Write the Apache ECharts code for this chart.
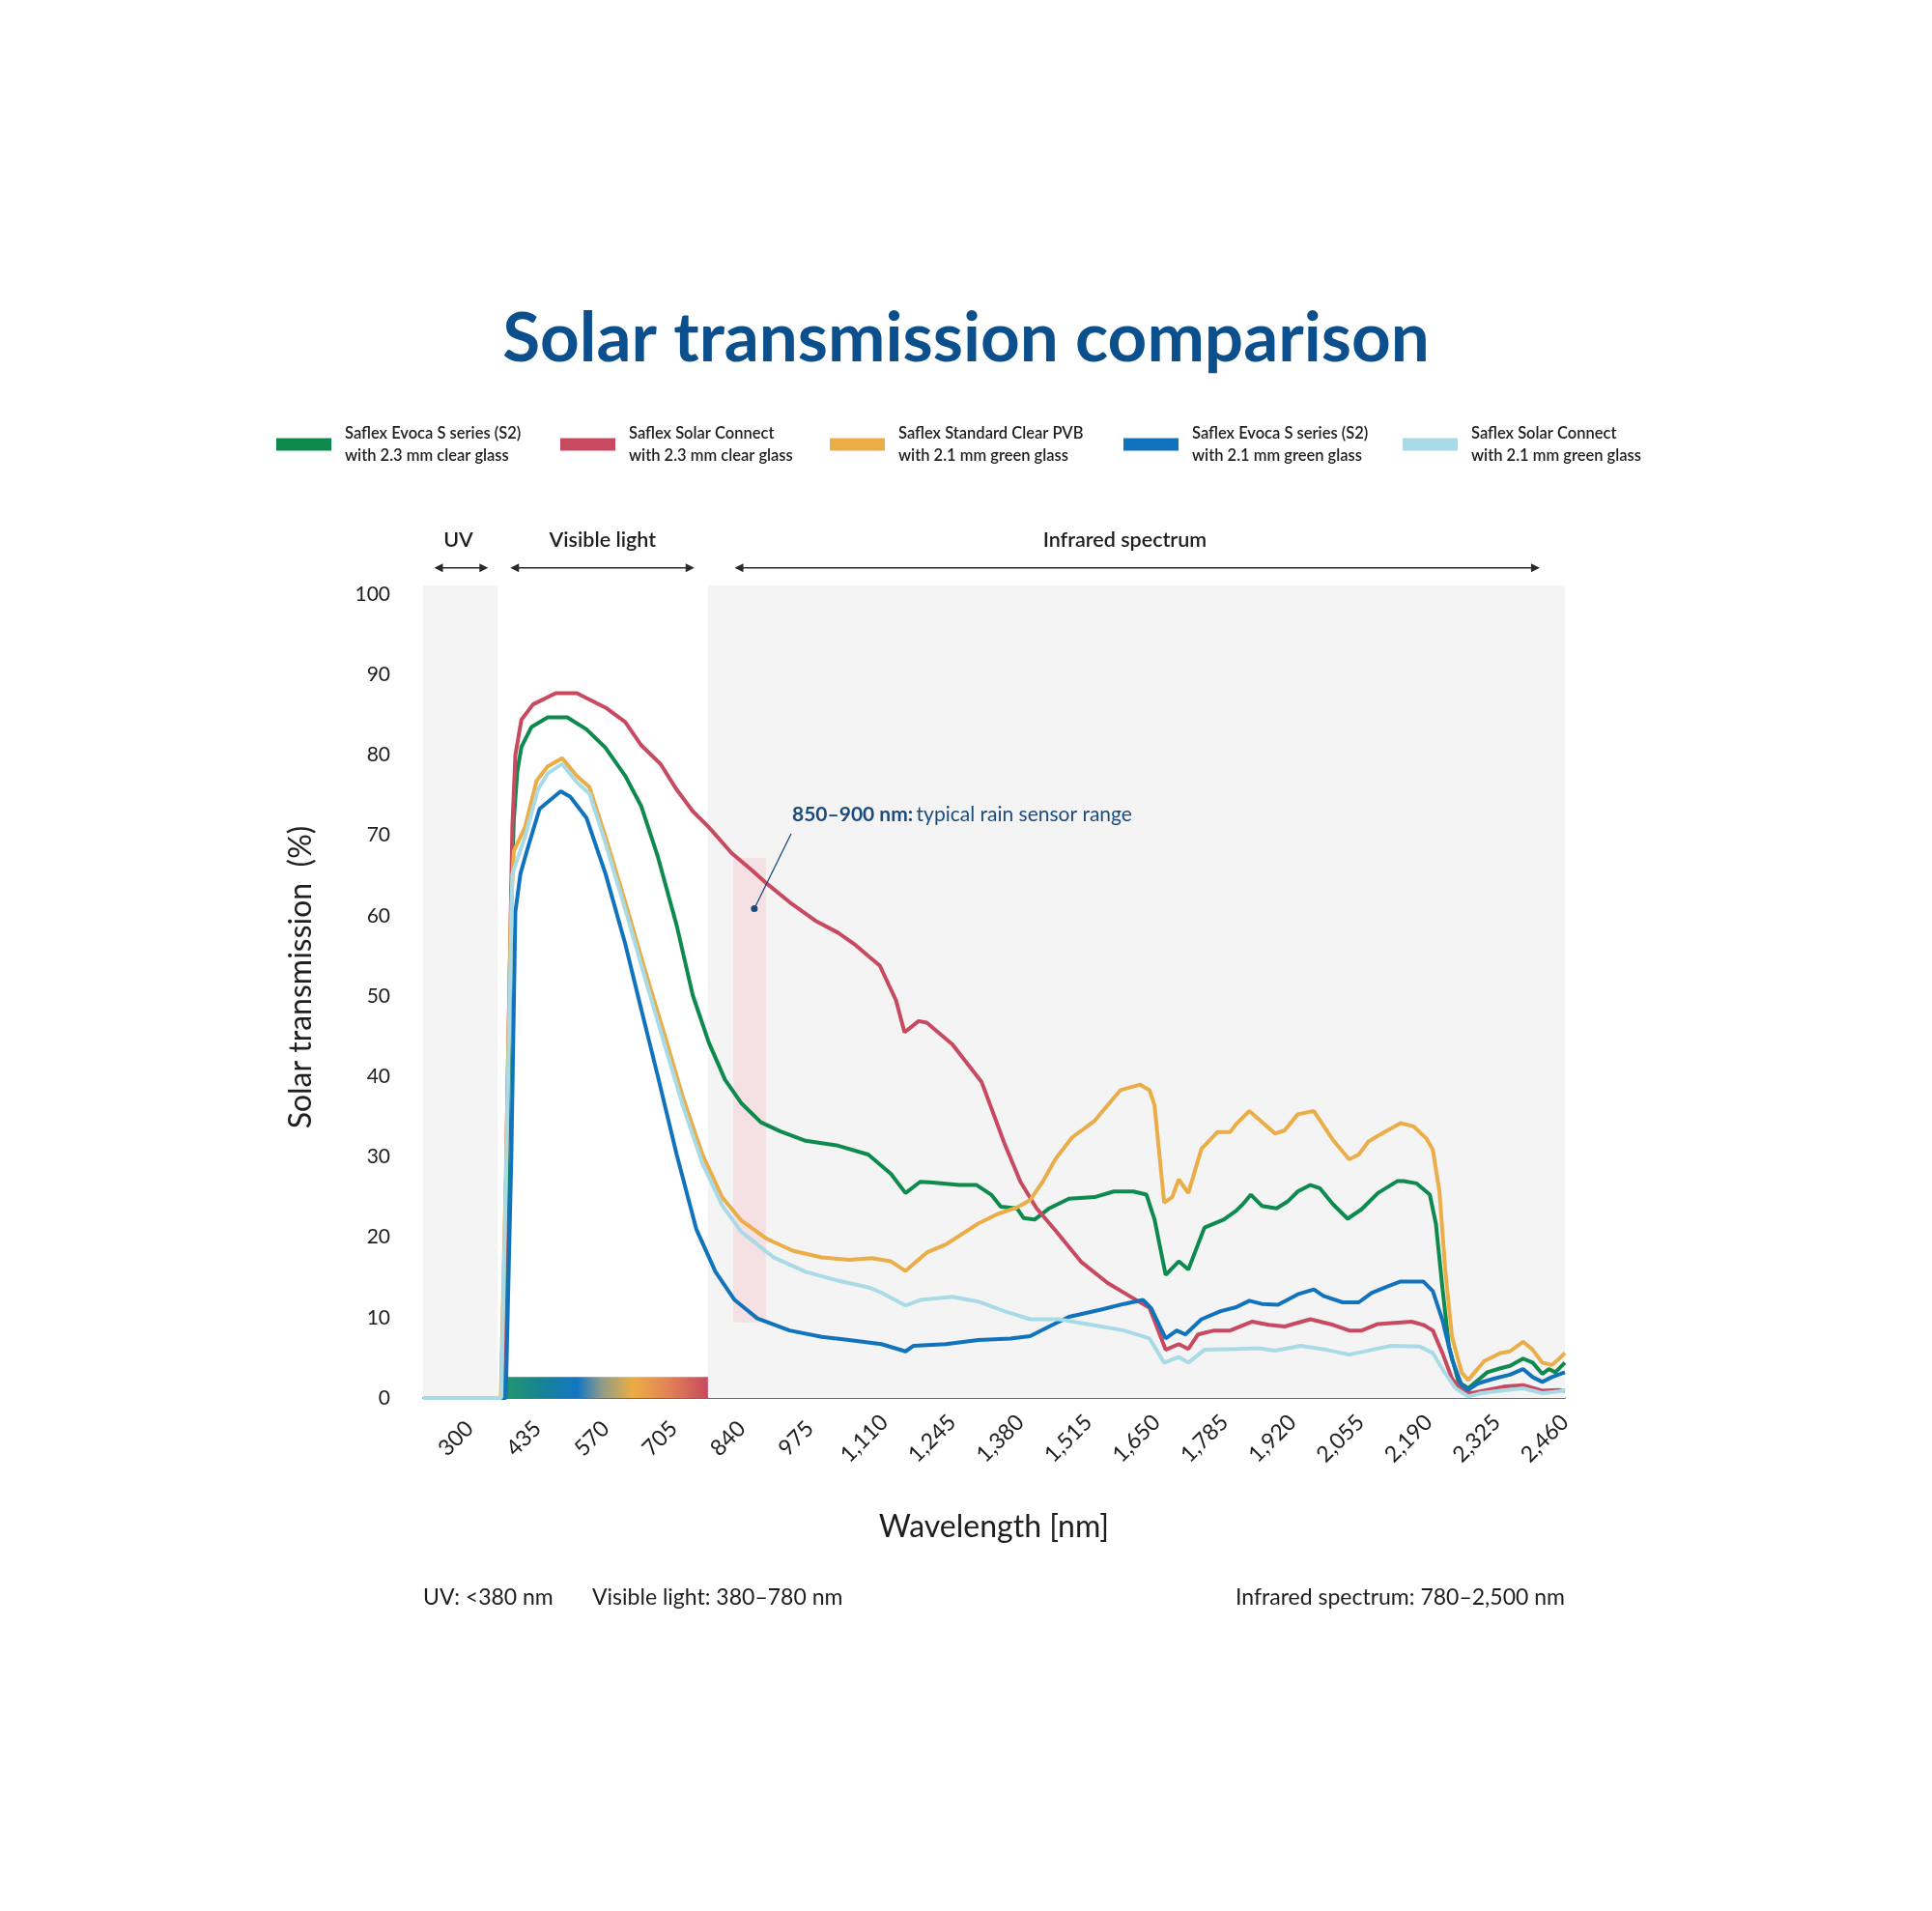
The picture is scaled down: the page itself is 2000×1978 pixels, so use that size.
<!DOCTYPE html>
<html>
<head>
<meta charset="utf-8">
<title>Solar transmission comparison</title>
<script src="https://cdn.jsdelivr.net/npm/echarts@6/dist/echarts.min.js"></script>
<style>
  html, body { margin: 0; padding: 0; background: #fff; }
  #chart { width: 2000px; height: 1978px; }
</style>
</head>
<body>
<div id="chart"></div>
<script>
// wavelength [nm], transmission [%]
var evocaClear = [
  [235,0],[395,0],[400,15],[405,40],[410,62],[415,72],[422,78],[430,81],[450,83.5],[482,84.7],[521,84.7],
  [559,83.2],[597,80.9],[636,77.4],[668,73.6],[700,67.5],[738,58.8],[770,50.1],[802,44.2],[834,39.6],
  [866,36.7],[905,34.3],[943,33.2],[994,32.0],[1058,31.4],[1118,30.3],[1163,27.9],[1192,25.5],[1221,26.9],
  [1246,26.8],[1298,26.5],[1333,26.5],[1362,25.3],[1381,23.8],[1413,23.6],[1426,22.4],[1448,22.2],
  [1477,23.6],[1516,24.8],[1567,25.0],[1605,25.7],[1644,25.7],[1670,25.3],[1686,22.2],[1708,15.3],
  [1734,17.0],[1753,16.0],[1785,21.2],[1823,22.2],[1848,23.3],[1861,24.1],[1877,25.3],[1899,23.9],
  [1928,23.6],[1951,24.5],[1970,25.7],[1995,26.5],[2014,26.1],[2040,24.1],[2069,22.3],[2097,23.5],
  [2129,25.5],[2168,27.0],[2180,27.0],[2206,26.7],[2232,25.3],[2244,21.7],[2257,13.7],[2270,6.4],
  [2289,2.0],[2308,1.2],[2327,2.2],[2346,3.2],[2372,3.7],[2391,4.0],[2417,4.9],[2436,4.4],[2455,3.0],
  [2468,3.6],[2481,3.2],[2500,4.4]
];
var solarConnectClear = [
  [235,0],[393,0],[402,37],[412,71],[418,80],[430,84.4],[453,86.3],[498,87.7],[540,87.7],[597,85.9],
  [636,84.1],[668,81.2],[706,78.9],[738,75.7],[770,73.0],[802,71.0],[847,67.8],[885,65.8],[917,64.0],
  [962,61.7],[1013,59.4],[1058,57.9],[1090,56.5],[1118,55.0],[1141,53.8],[1173,49.5],[1190,45.5],
  [1218,46.9],[1234,46.7],[1285,44.0],[1343,39.3],[1349,38.3],[1388,31.7],[1420,26.9],[1452,23.6],
  [1490,20.8],[1541,16.9],[1593,14.3],[1644,12.4],[1676,11.2],[1708,6.0],[1734,6.7],[1753,6.1],
  [1772,7.9],[1804,8.4],[1836,8.4],[1880,9.5],[1912,9.1],[1944,8.9],[1995,9.8],[2040,9.1],[2072,8.4],
  [2097,8.4],[2129,9.2],[2196,9.5],[2219,9.1],[2238,8.4],[2257,5.6],[2276,2.4],[2295,1.0],[2315,0.6],
  [2346,1.0],[2378,1.4],[2417,1.6],[2455,0.9],[2487,1.0],[2500,0.9]
];
var standardGreen = [
  [235,0],[389,0],[400,30],[409,60.5],[415,68.1],[437,71.0],[460,76.8],[482,78.6],[511,79.6],[540,77.4],
  [565,76.0],[597,69.8],[636,61.7],[674,53.5],[713,45.4],[751,37.3],[789,30.3],[828,25.0],[866,22.1],
  [917,19.8],[969,18.3],[1026,17.5],[1080,17.2],[1125,17.4],[1163,17.0],[1192,15.8],[1234,18.1],
  [1272,19.1],[1336,21.7],[1375,22.9],[1413,23.7],[1439,24.6],[1464,26.9],[1490,29.8],[1522,32.4],
  [1567,34.5],[1618,38.3],[1657,39.0],[1676,38.3],[1686,36.4],[1705,24.3],[1721,25.0],[1734,27.2],
  [1753,25.5],[1779,31.0],[1811,33.1],[1836,33.1],[1848,34.1],[1874,35.7],[1896,34.5],[1925,32.9],
  [1944,33.3],[1970,35.3],[2002,35.7],[2040,32.1],[2072,29.7],[2091,30.3],[2110,31.9],[2142,33.1],
  [2174,34.2],[2200,33.8],[2225,32.3],[2238,30.9],[2251,25.7],[2263,15.7],[2276,7.6],[2295,3.2],
  [2308,2.2],[2321,3.2],[2340,4.6],[2372,5.6],[2391,5.8],[2417,7.0],[2436,6.0],[2455,4.4],[2474,4.1],
  [2487,4.8],[2500,5.6]
];
var evocaGreen = [
  [235,0],[399,0],[410,30],[418,60.5],[428,65.2],[441,68.1],[466,73.3],[508,75.5],[527,74.8],[559,72.2],
  [597,65.2],[636,56.5],[668,48.3],[700,40.2],[738,30.3],[777,21.0],[815,15.7],[853,12.2],[898,9.9],
  [962,8.4],[1026,7.6],[1080,7.2],[1144,6.7],[1192,5.8],[1208,6.5],[1272,6.7],[1336,7.2],[1400,7.4],
  [1439,7.7],[1477,8.9],[1516,10.1],[1580,11.0],[1625,11.7],[1663,12.2],[1679,11.2],[1708,7.4],
  [1730,8.4],[1747,7.9],[1779,9.8],[1817,10.8],[1848,11.3],[1874,12.1],[1899,11.7],[1931,11.6],
  [1970,12.9],[2002,13.5],[2021,12.7],[2059,11.9],[2091,11.9],[2117,13.1],[2149,13.9],[2174,14.5],
  [2219,14.5],[2238,13.3],[2257,9.7],[2276,4.8],[2295,1.6],[2308,1.0],[2327,1.8],[2359,2.4],[2391,2.9],
  [2417,3.6],[2436,2.6],[2455,2.0],[2474,2.6],[2500,3.2]
];
var solarConnectGreen = [
  [235,0],[390,0],[402,35],[412,65.2],[437,69.8],[463,75.7],[482,77.7],[511,78.9],[540,76.6],[565,75.2],
  [597,69.0],[636,60.8],[674,52.5],[713,44.2],[751,36.2],[789,29.2],[828,24.0],[866,20.7],[930,17.5],
  [994,15.7],[1058,14.6],[1122,13.7],[1144,13.1],[1192,11.5],[1221,12.2],[1285,12.6],[1336,12.0],
  [1388,10.8],[1439,9.8],[1496,9.8],[1561,9.1],[1625,8.4],[1676,7.4],[1705,4.4],[1734,5.1],[1753,4.4],
  [1785,6.0],[1849,6.1],[1893,6.2],[1925,5.9],[1976,6.5],[2027,6.0],[2072,5.4],[2117,6.0],[2155,6.5],
  [2212,6.4],[2238,5.6],[2257,3.6],[2283,1.2],[2308,0.2],[2334,0.6],[2372,0.9],[2417,1.2],[2455,0.6],
  [2487,0.8],[2500,1.0]
];

var seriesNames = [
  'Saflex Evoca S series (S2)\nwith 2.3 mm clear glass',
  'Saflex Solar Connect\nwith 2.3 mm clear glass',
  'Saflex Standard Clear PVB\nwith 2.1 mm green glass',
  'Saflex Evoca S series (S2)\nwith 2.1 mm green glass',
  'Saflex Solar Connect\nwith 2.1 mm green glass'
];
var seriesColors = ['#0e8a4f', '#c74a60', '#eaad47', '#1273bd', '#a9dbe6'];
var seriesData = [evocaClear, solarConnectClear, standardGreen, evocaGreen, solarConnectGreen];

var xTicks = [300, 435, 570, 705, 840, 975, 1110, 1245, 1380, 1515, 1650, 1785, 1920, 2055, 2190, 2325, 2460];
var yTicks = [0, 10, 20, 30, 40, 50, 60, 70, 80, 90, 100];

// spectral bands as drawn, [from, to] nm
var uvBand = [235, 383];
var visibleBand = [383, 800];
var irBand = [800, 2500];
var rainBand = [850, 915];
var bandArrows = [
  { label: 'UV', from: 257, to: 364, labelAt: 305 },
  { label: 'Visible light', from: 408, to: 773, labelAt: 591 },
  { label: 'Infrared spectrum', from: 853, to: 2450, labelAt: 1627 }
];

var legendLefts = [281, 575, 854, 1158, 1447];
var FONT = 'Lato, "Open Sans", sans-serif';

var chart = echarts.init(document.getElementById('chart'));

var legends = seriesNames.map(function (name, i) {
  return {
    left: legendLefts[i],
    top: 432,
    icon: 'rect',
    itemWidth: 57,
    itemHeight: 13,
    selectedMode: false,
    data: [name],
    textStyle: {
      fontFamily: FONT, fontSize: 16.5, fontWeight: 600, color: '#1e1e1e',
      lineHeight: 23, padding: [0, 0, 0, 9]
    }
  };
});

var series = [{
  // background bands only
  type: 'line',
  data: [],
  z: 1,
  silent: true,
  markArea: {
    silent: true,
    data: [
      [{ xAxis: uvBand[0], yAxis: 0, itemStyle: { color: '#f4f4f4' } }, { xAxis: uvBand[1], yAxis: 101.1 }],
      [{ xAxis: irBand[0], yAxis: 0, itemStyle: { color: '#f4f4f4' } }, { xAxis: irBand[1], yAxis: 101.1 }],
      [{ xAxis: rainBand[0], yAxis: 9.4, itemStyle: { color: '#f5e0e3' } }, { xAxis: rainBand[1], yAxis: 67.2 }],
      [{
        xAxis: 396, yAxis: 0,
        itemStyle: {
          color: {
            type: 'linear', x: 0, y: 0, x2: 1, y2: 0,
            colorStops: [
              { offset: 0, color: '#23966a' },
              { offset: 0.2, color: '#16829a' },
              { offset: 0.36, color: '#1476c4' },
              { offset: 0.48, color: '#8f9c88' },
              { offset: 0.63, color: '#ebad45' },
              { offset: 0.8, color: '#e38456' },
              { offset: 1, color: '#c84a5e' }
            ]
          }
        }
      }, { xAxis: visibleBand[1], yAxis: 2.6 }]
    ]
  }
}];

seriesNames.forEach(function (name, i) {
  series.push({
    name: name,
    type: 'line',
    data: seriesData[i],
    z: 3,
    showSymbol: false,
    symbol: 'none',
    color: seriesColors[i],
    lineStyle: { width: 4, color: seriesColors[i] },
    animation: false
  });
});

chart.setOption({
  animation: false,
  backgroundColor: '#ffffff',
  title: {
    text: 'Solar transmission comparison',
    left: 'center',
    top: 311,
    textStyle: { fontFamily: FONT, fontSize: 71, fontWeight: 'bold', color: '#0b4f8c' }
  },
  legend: legends,
  grid: { left: 438, right: 380, top: 532, bottom: 531, containLabel: false },
  xAxis: {
    type: 'value',
    min: 235,
    max: 2500,
    name: 'Wavelength [nm]',
    nameLocation: 'middle',
    nameGap: 118,
    nameTextStyle: { fontFamily: FONT, fontSize: 32, color: '#1e1e1e', verticalAlign: 'top' },
    axisLine: { show: true, onZero: false, lineStyle: { color: '#3a3a3a', width: 1.5 } },
    axisTick: { show: false },
    splitLine: { show: false },
    axisLabel: {
      customValues: xTicks,
      rotate: 45,
      margin: 42,
      align: 'center',
      verticalAlign: 'middle',
      fontFamily: FONT,
      fontSize: 23,
      color: '#1e1e1e',
      formatter: function (v) { return v.toLocaleString('en-US'); }
    }
  },
  yAxis: {
    type: 'value',
    min: 0,
    max: 110,
    name: 'Solar transmission  (%)',
    nameLocation: 'middle',
    nameGap: 110,
    nameTextStyle: { fontFamily: FONT, fontSize: 32, color: '#1e1e1e', padding: [0, 44, 0, 0] },
    axisLine: { show: false },
    axisTick: { show: false },
    splitLine: { show: false },
    axisLabel: {
      customValues: yTicks,
      margin: 34,
      fontFamily: FONT,
      fontSize: 21,
      color: '#1e1e1e'
    }
  },
  series: series
});

// overlays placed through the chart's own scales
function px(x, y) { return chart.convertToPixel({ gridIndex: 0 }, [x, y]); }

var graphics = [];
bandArrows.forEach(function (b) {
  var a = px(b.from, 103.3), c = px(b.to, 103.3), m = px(b.labelAt, 106.7);
  graphics.push({
    type: 'line', silent: true, z: 50,
    shape: { x1: a[0] + 4, y1: a[1], x2: c[0] - 4, y2: c[1] },
    style: { stroke: '#2a2a2a', lineWidth: 1.5 }
  });
  graphics.push({
    type: 'polygon', silent: true, z: 50,
    shape: { points: [[a[0], a[1]], [a[0] + 9, a[1] - 4.5], [a[0] + 9, a[1] + 4.5]] },
    style: { fill: '#2a2a2a' }
  });
  graphics.push({
    type: 'polygon', silent: true, z: 50,
    shape: { points: [[c[0], c[1]], [c[0] - 9, c[1] - 4.5], [c[0] - 9, c[1] + 4.5]] },
    style: { fill: '#2a2a2a' }
  });
  graphics.push({
    type: 'text', silent: true, z: 50, x: m[0], y: m[1],
    style: {
      text: b.label, fontFamily: FONT, fontSize: 21.5, fontWeight: 600, fill: '#1e1e1e',
      align: 'center', verticalAlign: 'middle'
    }
  });
});

// rain sensor callout
var dot = px(892, 60.9), lineTop = px(965, 70.2), labelPos = px(967, 72.6);
graphics.push({
  type: 'line', silent: true, z: 50,
  shape: { x1: dot[0], y1: dot[1], x2: lineTop[0], y2: lineTop[1] },
  style: { stroke: '#1c4b7c', lineWidth: 1.3 }
});
graphics.push({
  type: 'circle', silent: true, z: 50,
  shape: { cx: dot[0], cy: dot[1], r: 3.5 },
  style: { fill: '#1c4b7c' }
});
graphics.push({
  type: 'text', silent: true, z: 50, x: labelPos[0], y: labelPos[1],
  style: {
    text: '{b|850–900 nm:} {r|typical rain sensor range}',
    verticalAlign: 'middle',
    rich: {
      b: { fontFamily: FONT, fontSize: 21, fontWeight: 'bold', fill: '#1c4b7c' },
      r: { fontFamily: FONT, fontSize: 21, fill: '#1c4b7c' }
    }
  }
});

// footnotes under the axis
var noteY = 1654;
var left = px(235, 0)[0], right = px(2500, 0)[0];
var noteStyle = { fontFamily: FONT, fontSize: 23, fill: '#1e1e1e', verticalAlign: 'middle' };
graphics.push({ type: 'text', silent: true, z: 50, x: left, y: noteY,
  style: Object.assign({ text: 'UV: <380 nm', align: 'left' }, noteStyle) });
graphics.push({ type: 'text', silent: true, z: 50, x: left + 175, y: noteY,
  style: Object.assign({ text: 'Visible light: 380–780 nm', align: 'left' }, noteStyle) });
graphics.push({ type: 'text', silent: true, z: 50, x: right, y: noteY,
  style: Object.assign({ text: 'Infrared spectrum: 780–2,500 nm', align: 'right' }, noteStyle) });

chart.setOption({ graphic: graphics });
</script>
</body>
</html>
